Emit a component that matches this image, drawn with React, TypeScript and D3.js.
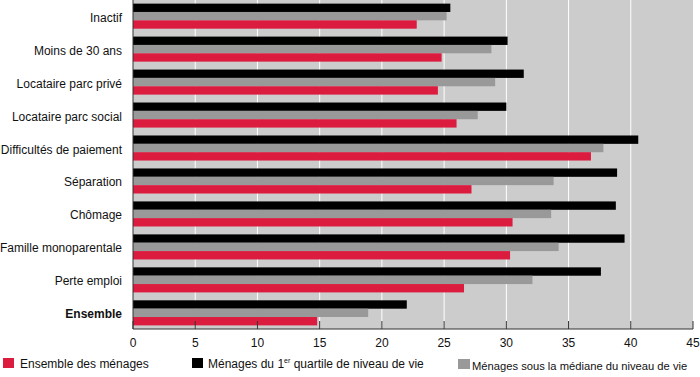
import React from "react";
import * as d3 from "d3";

const categories = [
  "Inactif",
  "Moins de 30 ans",
  "Locataire parc privé",
  "Locataire parc social",
  "Difficultés de paiement",
  "Séparation",
  "Chômage",
  "Famille monoparentale",
  "Perte emploi",
  "Ensemble",
];
const quartile1 = [25.5, 30.1, 31.4, 30.0, 40.6, 38.9, 38.8, 39.5, 37.6, 22.0];
const sousMediane = [25.2, 28.8, 29.1, 27.7, 37.8, 33.8, 33.6, 34.2, 32.1, 18.9];
const ensembleMenages = [22.8, 24.8, 24.5, 26.0, 36.8, 27.2, 30.5, 30.3, 26.6, 14.8];
const xTicks = [0, 5, 10, 15, 20, 25, 30, 35, 40, 45];

const series = [
  { key: "q1", values: quartile1, color: "#000000" },
  { key: "med", values: sousMediane, color: "#999999" },
  { key: "ens", values: ensembleMenages, color: "#dc1c3f" },
];

const W = 700;
const H = 377;
const left = 133;
const right = 693;
const top = 0;
const bottom = 329;
const FONT = "'Liberation Sans', Arial, Helvetica, sans-serif";

export default function App() {
  const x = d3.scaleLinear().domain([0, 45]).range([left, right]);
  const y = d3
    .scaleBand<string>()
    .domain(categories)
    .range([top, bottom])
    .paddingInner(0.24)
    .paddingOuter(0.11);
  const inner = d3
    .scaleBand<string>()
    .domain(series.map((s) => s.key))
    .range([0, y.bandwidth()]);

  return (
    <svg
      width={W}
      height={H}
      style={{ position: "absolute", left: 0, top: 0, background: "#fff" }}
      fontFamily={FONT}
    >
      <rect x={left} y={top} width={right - left} height={bottom - top} fill="#cccccc" />
      {xTicks.slice(1, -1).map((t) => (
        <line key={"g" + t} x1={x(t)} x2={x(t)} y1={top} y2={bottom} stroke="#ffffff" strokeWidth={1} />
      ))}
      {categories.map((c, i) => (
        <g key={c}>
          {series.map((s) => (
            <rect
              key={s.key}
              x={x(0)}
              y={(y(c) as number) + (inner(s.key) as number)}
              width={x(s.values[i]) - x(0)}
              height={inner.bandwidth()}
              fill={s.color}
            />
          ))}
          <text
            x={122}
            y={(y(c) as number) + y.bandwidth() / 2 + 1.5}
            textAnchor="end"
            dominantBaseline="central"
            fontSize={12}
            fontWeight={c === "Ensemble" ? "bold" : "normal"}
            fill="#111"
          >
            {c}
          </text>
        </g>
      ))}
      <line x1={left} x2={left} y1={top} y2={bottom} stroke="#333" strokeWidth={1} />
      <line x1={left} x2={right} y1={bottom} y2={bottom} stroke="#333" strokeWidth={1} />
      {xTicks.map((t) => (
        <g key={"t" + t}>
          <line x1={x(t)} x2={x(t)} y1={bottom - 8} y2={bottom} stroke="#333" strokeWidth={1} />
          <text x={x(t)} y={343} textAnchor="middle" dominantBaseline="central" fontSize={12} fill="#111">
            {t}
          </text>
        </g>
      ))}
      <g fontSize={12} fill="#111">
        <rect x={3} y={358} width={11} height={10} fill="#dc1c3f" />
        <text x={20} y={363.5} dominantBaseline="central">Ensemble des ménages</text>
        <rect x={192} y={358} width={11} height={10} fill="#000" />
        <text x={208} y={363.5} dominantBaseline="central">
          Ménages du 1<tspan fontSize={7} dy={-4}>er</tspan>
          <tspan dy={4}> quartile de niveau de vie</tspan>
        </text>
        <rect x={458} y={359} width={12} height={10} fill="#999999" />
        <text x={472} y={366} dominantBaseline="central" fontSize={11.2}>
          Ménages sous la médiane du niveau de vie
        </text>
      </g>
    </svg>
  );
}
